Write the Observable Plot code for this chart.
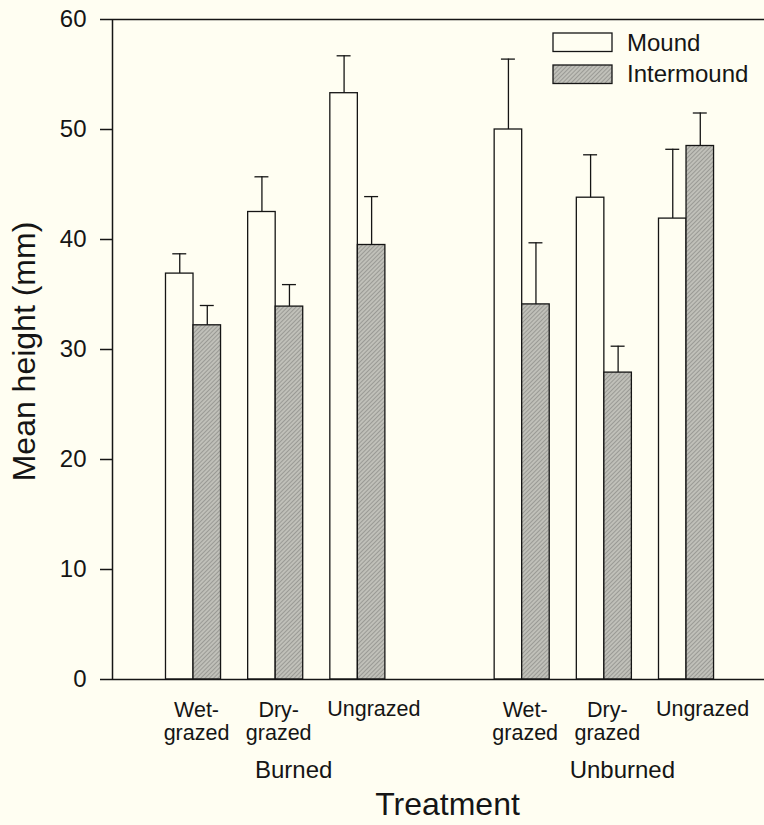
<!DOCTYPE html>
<html><head><meta charset="utf-8">
<script src="https://cdn.jsdelivr.net/npm/d3@7"></script>
<script src="https://cdn.jsdelivr.net/npm/@observablehq/plot@0.6"></script>
<style>
html,body{margin:0;padding:0;background:#fffef2;}
#wrap{position:relative;width:764px;height:825px;font-family:"Liberation Sans",Arial,sans-serif;}
#legend{position:absolute;left:0;top:0;pointer-events:none;}
</style></head><body>
<svg width="0" height="0" style="position:absolute">
<defs>
<pattern id="hatch" patternUnits="userSpaceOnUse" width="3" height="3" patternTransform="rotate(45)">
<rect width="3" height="3" fill="#c0c0b9"/>
<line x1="0.5" y1="0" x2="0.5" y2="3" stroke="#9a9a95" stroke-width="1"/>
</pattern>
</defs></svg>
<div id="wrap"></div>
<script>
// ---- data ----
const groups = ["Burned", "Unburned"];
const treatments = ["Wet-\ngrazed", "Dry-\ngrazed", "Ungrazed"];
const series = ["Mound", "Intermound"];
const moundMean = [36.9, 42.5, 53.3, 50.0, 43.8, 41.9];
const moundErr  = [1.8, 3.2, 3.4, 6.4, 3.9, 6.3];
const interMean = [32.2, 33.9, 39.5, 34.1, 27.9, 48.5];
const interErr  = [1.8, 2.0, 4.4, 5.6, 2.4, 3.0];
const yTicks = [0, 10, 20, 30, 40, 50, 60];

// ---- build table ----
const bw = 0.335; // bar width in x units
const rows = [];
const labels = [];
groups.forEach((g, gi) => {
  treatments.forEach((t, ti) => {
    const i = gi * 3 + ti;
    const pos = gi * 4 + ti;
    rows.push({series: series[0], pos, c: pos - bw / 2, x1: pos - bw, x2: pos, mean: moundMean[i], err: moundErr[i]});
    rows.push({series: series[1], pos, c: pos + bw / 2, x1: pos, x2: pos + bw, mean: interMean[i], err: interErr[i]});
    labels.push({pos, label: t, ungrazed: !t.includes("\n")});
  });
});
const groupLabels = groups.map((g, gi) => ({pos: gi * 4 + 1, label: g}));
const mound = rows.filter(d => d.series === series[0]);
const inter = rows.filter(d => d.series === series[1]);

const bg = "#fffef2";
const ink = "#151515";
const capHalf = 0.085;

const chart = Plot.plot({
  width: 764,
  height: 825,
  marginLeft: 112,
  marginRight: 0,
  marginTop: 19,
  marginBottom: 146,
  style: {background: "transparent", fontFamily: "'Liberation Sans', Arial, sans-serif", color: ink, overflow: "visible"},
  x: {domain: [-0.986, 6.949], axis: null},
  y: {domain: [0, 60]},
  marks: [
    Plot.rect(mound, {x1: "x1", x2: "x2", y1: 0, y2: "mean", fill: bg, stroke: ink, strokeWidth: 1.3}),
    Plot.rect(inter, {x1: "x1", x2: "x2", y1: 0, y2: "mean", fill: "url(#hatch)", stroke: ink, strokeWidth: 1.3}),
    Plot.ruleX(rows, {x: "c", y1: "mean", y2: d => d.mean + d.err, stroke: ink, strokeWidth: 1.3}),
    Plot.ruleY(rows, {y: d => d.mean + d.err, x1: d => d.c - capHalf, x2: d => d.c + capHalf, stroke: ink, strokeWidth: 1.3}),
    Plot.ruleX([-0.986], {stroke: ink, strokeWidth: 1.5}),
    Plot.ruleY([0, 60], {stroke: ink, strokeWidth: 1.5}),
    Plot.axisY({ticks: yTicks, tickSize: 12, tickPadding: 14, fontSize: 24, label: null, stroke: ink, strokeWidth: 1.5, strokeOpacity: 1}),
    Plot.text(labels.filter(d => !d.ungrazed), {x: "pos", text: "label", frameAnchor: "bottom", lineAnchor: "top", dy: 21, dx: 3, fontSize: 21.5, lineHeight: 1.07, fill: ink}),
    Plot.text(labels.filter(d => d.ungrazed), {x: "pos", text: "label", frameAnchor: "bottom", lineAnchor: "top", dy: 21, dx: 16, fontSize: 21.5, fill: ink}),
    Plot.text(groupLabels, {x: "pos", text: "label", frameAnchor: "bottom", lineAnchor: "top", dy: 81, dx: 18, fontSize: 24, fill: ink}),
    Plot.text(["Treatment"], {frameAnchor: "bottom", textAnchor: "middle", lineAnchor: "top", dy: 113, dx: 9, fontSize: 32, fill: ink}),
    Plot.text(["Mean height (mm)"], {frameAnchor: "left", textAnchor: "middle", rotate: -90, dx: -87.5, dy: 2, fontSize: 32, fill: ink})
  ]
});
const wrap = document.getElementById("wrap");
wrap.appendChild(chart);

// ---- legend overlay ----
const ns = "http://www.w3.org/2000/svg";
const leg = document.createElementNS(ns, "svg");
leg.setAttribute("id", "legend");
leg.setAttribute("width", 764);
leg.setAttribute("height", 825);
const fills = [bg, "url(#hatch)"];
series.forEach((s, i) => {
  const r = document.createElementNS(ns, "rect");
  r.setAttribute("x", 553); r.setAttribute("y", 33 + i * 32);
  r.setAttribute("width", 59); r.setAttribute("height", 18.5);
  r.setAttribute("fill", fills[i]); r.setAttribute("stroke", ink); r.setAttribute("stroke-width", 1.3);
  leg.appendChild(r);
  const t = document.createElementNS(ns, "text");
  t.setAttribute("x", 627); t.setAttribute("y", 51 + i * 31);
  t.setAttribute("font-size", 24); t.setAttribute("fill", ink);
  t.setAttribute("font-family", "'Liberation Sans', Arial, sans-serif");
  t.textContent = s;
  leg.appendChild(t);
});
wrap.appendChild(leg);
</script>
</body></html>
